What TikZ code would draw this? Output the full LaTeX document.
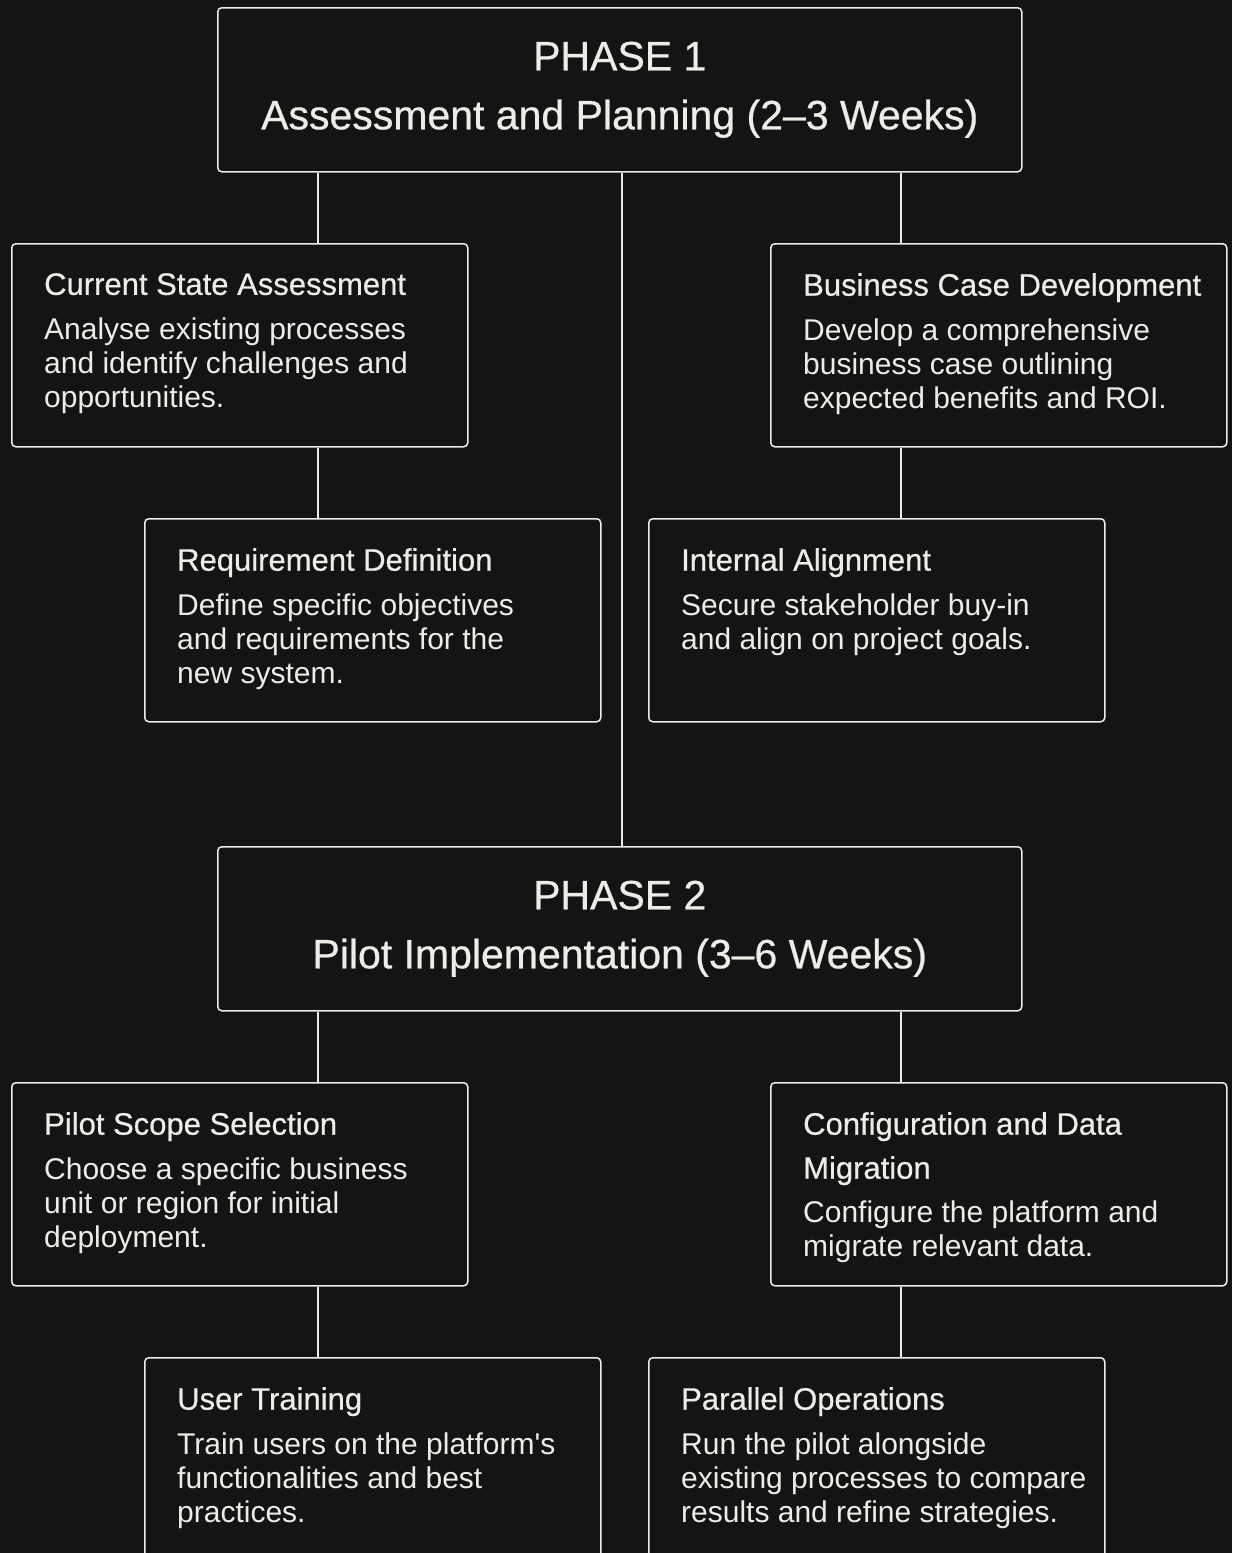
\documentclass[tikz,border=0pt]{standalone}
\usepackage{fontspec}
\setmainfont{Liberation Sans}[Ligatures=TeXOff]
\usetikzlibrary{positioning}
\usepackage{xcolor}
\definecolor{bg}{HTML}{141414}
\definecolor{ink}{HTML}{EEECE6}
\newcommand{\ttl}[1]{{\fontsize{31}{44}\selectfont\addfontfeature{FakeBold=0.6}#1}}

\begin{document}
\begin{tikzpicture}[x=1pt,y=-1pt,
    phase/.style={draw=ink,line width=1.5pt,rounded corners=4pt,minimum width=804pt,minimum height=164pt,anchor=north west,inner sep=0pt,align=center,text=ink,font=\fontsize{41}{59}\selectfont\addfontfeature{FakeBold=0.6}},%
    card/.style={draw=ink,line width=1.5pt,rounded corners=4pt,minimum width=456pt,minimum height=203pt,anchor=north west,inner sep=0pt},%
    txt/.style={anchor=north west,inner sep=0pt,align=left,text=ink,font=\fontsize{30}{34}\selectfont},%
    link/.style={draw=ink,line width=1.5pt}]
    \fill[bg] (0,0) rectangle (1232,1553);
    \useasboundingbox (0,0) rectangle (1232,1553);
    \clip (0,0) rectangle (1232,1553);
    \coordinate (lx) at (318,0);
    \coordinate (cx) at (622,0);
    \coordinate (rx) at (901,0);
    % phase 1
    \node[phase] (p1) at (217,7) {PHASE 1\\Assessment and Planning (2–3 Weeks)};
    \node[card] (csa) at (11,243) {};
    \node[txt] (csat) at ([xshift=33pt,yshift=-30pt]csa.north west) {\ttl{Current State Assessment}\\[11pt]Analyse existing processes\\and identify challenges and\\opportunities.};
    \node[card] (bcd) at (770,243) {};
    \node[txt] (bcdt) at ([xshift=33pt,yshift=-30pt]bcd.north west) {\ttl{Business Case Development}\\[11pt]Develop a comprehensive\\business case outlining\\expected benefits and ROI.};
    \node[card] (rd) at (144,518) {};
    \node[txt] (rdt) at ([xshift=33pt,yshift=-30pt]rd.north west) {\ttl{Requirement Definition}\\[11pt]Define specific objectives\\and requirements for the\\new system.};
    \node[card] (ia) at (648,518) {};
    \node[txt] (iat) at ([xshift=33pt,yshift=-30pt]ia.north west) {\ttl{Internal Alignment}\\[11pt]Secure stakeholder buy-in\\and align on project goals.};
    % phase 2
    \node[phase] (p2) at (217,846) {PHASE 2\\Pilot Implementation (3–6 Weeks)};
    \node[card] (pss) at (11,1082) {};
    \node[txt] (psst) at ([xshift=33pt,yshift=-30pt]pss.north west) {\ttl{Pilot Scope Selection}\\[11pt]Choose a specific business\\unit or region for initial\\deployment.};
    \node[card] (cdm) at (770,1082) {};
    \node[txt] (cdmt) at ([xshift=33pt,yshift=-30pt]cdm.north west) {\ttl{Configuration and Data}\\[10pt]\ttl{Migration}\\[10pt]Configure the platform and\\migrate relevant data.};
    \node[card] (ut) at (144,1357) {};
    \node[txt] (utt) at ([xshift=33pt,yshift=-30pt]ut.north west) {\ttl{User Training}\\[11pt]Train users on the platform's\\functionalities and best\\practices.};
    \node[card] (po) at (648,1357) {};
    \node[txt] (pot) at ([xshift=33pt,yshift=-30pt]po.north west) {\ttl{Parallel Operations}\\[11pt]Run the pilot alongside\\existing processes to compare\\results and refine strategies.};
    % links
    \draw[link] (p1.south -| lx) -- (csa.north -| lx);
    \draw[link] (csa.south -| lx) -- (rd.north -| lx);
    \draw[link] (p1.south -| rx) -- (bcd.north -| rx);
    \draw[link] (bcd.south -| rx) -- (ia.north -| rx);
    \draw[link] (p1.south -| cx) -- (p2.north -| cx);
    \draw[link] (p2.south -| lx) -- (pss.north -| lx);
    \draw[link] (pss.south -| lx) -- (ut.north -| lx);
    \draw[link] (p2.south -| rx) -- (cdm.north -| rx);
    \draw[link] (cdm.south -| rx) -- (po.north -| rx);
\end{tikzpicture}
\end{document}
